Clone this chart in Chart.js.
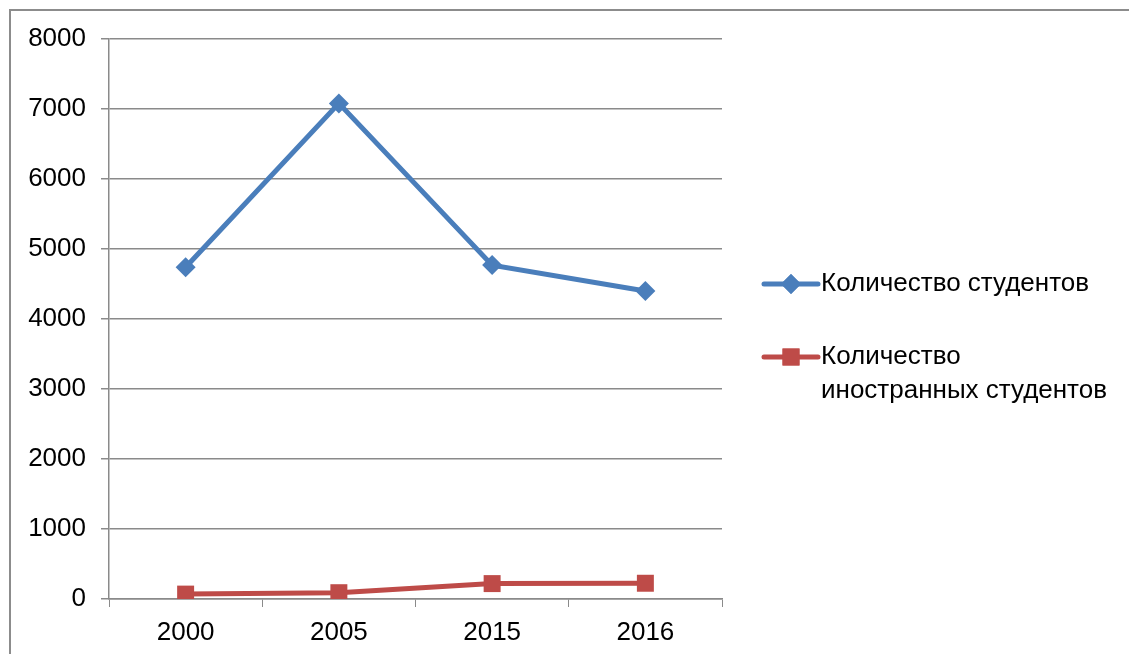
<!DOCTYPE html>
<html>
<head>
<meta charset="utf-8">
<script src="https://cdn.jsdelivr.net/npm/chart.js@4/dist/chart.umd.min.js"></script>
<style>
  html, body { margin: 0; padding: 0; background: #fff; overflow: hidden; }
  .frame { position: absolute; left: 9px; top: 9px; width: 1200px; height: 700px;
           border-left: 2px solid #8c8c8c; border-top: 2px solid #8c8c8c; }
  .wrap { position: absolute; left: 0; top: 0; width: 1129px; height: 654px; }
</style>
</head>
<body>
<div class="frame"></div>
<div class="wrap"><canvas id="chart"></canvas></div>
<script>
const years = ['2000', '2005', '2015', '2016'];
const students = [4740, 7080, 4770, 4400];
const foreignStudents = [70, 90, 220, 225];
const seriesNames = ['Количество студентов', ['Количество', 'иностранных студентов']];

const blue = '#4a7ebb';
const red = '#be4b48';
const gridColor = '#8a8a8a';
const font = 'Liberation Sans, Arial, sans-serif';

// legend drawn on the right side, like the original
const sideLegend = {
    id: 'sideLegend',
    afterDraw(chart) {
        const ctx = chart.ctx;
        const items = [
            { color: blue, style: 'rectRot', radius: 10, y: 284, lines: [seriesNames[0]] },
            { color: red, style: 'rect', radius: 12, y: 357, lines: seriesNames[1] }
        ];
        ctx.save();
        items.forEach(item => {
            ctx.strokeStyle = item.color;
            ctx.lineWidth = 5;
            ctx.lineCap = 'round';
            ctx.beginPath();
            ctx.moveTo(764, item.y);
            ctx.lineTo(818, item.y);
            ctx.stroke();
            ctx.fillStyle = item.color;
            Chart.helpers.drawPoint(ctx, { pointStyle: item.style, radius: item.radius, borderWidth: 0 }, 791, item.y);
            ctx.fill();
            ctx.fillStyle = '#000';
            ctx.font = '26px ' + font;
            ctx.textBaseline = 'middle';
            item.lines.forEach((t, i) => ctx.fillText(t, 821, item.y + i * 34));
        });
        ctx.restore();
    }
};

new Chart(document.getElementById('chart'), {
    type: 'line',
    data: {
        labels: years,
        datasets: [{
            label: seriesNames[0],
            data: students,
            borderColor: blue,
            backgroundColor: blue,
            borderWidth: 5,
            pointStyle: 'rectRot',
            pointRadius: 10,
            pointBorderWidth: 0,
            tension: 0
        }, {
            label: seriesNames[1].join(' '),
            data: foreignStudents,
            borderColor: red,
            backgroundColor: red,
            borderWidth: 5,
            pointStyle: 'rect',
            pointRadius: 12,
            pointBorderWidth: 0,
            tension: 0
        }]
    },
    options: {
        responsive: true,
        maintainAspectRatio: false,
        animation: false,
        layout: {
            padding: { left: 0, top: 39, right: 407, bottom: 0 }
        },
        scales: {
            x: {
                offset: true,
                grid: {
                    offset: true,
                    drawOnChartArea: false,
                    color: gridColor,
                    tickLength: 8
                },
                border: { color: gridColor, width: 1.5 },
                ticks: {
                    color: '#000',
                    padding: 10,
                    font: { family: font, size: 26 }
                },
                afterFit: s => { s.height = 55; }
            },
            y: {
                min: 0,
                max: 8000,
                ticks: {
                    stepSize: 1000,
                    color: '#000',
                    padding: 15,
                    font: { family: font, size: 26 },
                    callback: v => String(v)
                },
                grid: {
                    color: gridColor,
                    lineWidth: 1.5,
                    tickLength: 8
                },
                border: { color: gridColor, width: 1.5 },
                afterFit: s => { s.width = 109; }
            }
        },
        plugins: {
            legend: { display: false },
            tooltip: { enabled: false }
        }
    },
    plugins: [sideLegend]
});
</script>
</body>
</html>
